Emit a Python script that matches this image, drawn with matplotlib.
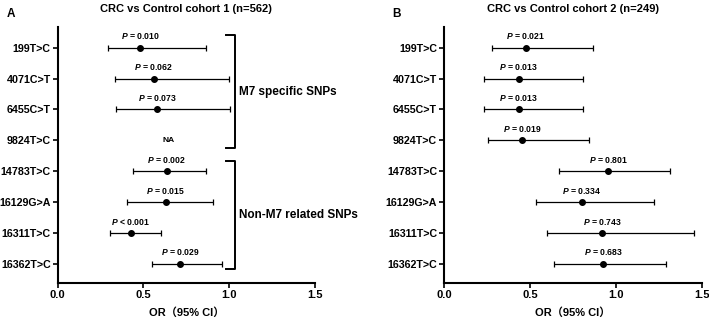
import matplotlib

matplotlib.use("Agg")
import matplotlib.pyplot as plt

snps = ["199T>C", "4071C>T", "6455C>T", "9824T>C",
        "14783T>C", "16129G>A", "16311T>C", "16362T>C"]

# cohort 1 (NA for 9824T>C)
or1 = [0.48, 0.56, 0.58, None, 0.635, 0.63, 0.425, 0.715]
lo1 = [0.295, 0.335, 0.34, None, 0.44, 0.405, 0.305, 0.547]
hi1 = [0.862, 1.0, 1.005, None, 0.864, 0.906, 0.603, 0.955]
p1 = ["= 0.010", "= 0.062", "= 0.073", None, "= 0.002", "= 0.015", "< 0.001", "= 0.029"]

# cohort 2
or2 = [0.476, 0.435, 0.435, 0.454, 0.955, 0.802, 0.922, 0.926]
lo2 = [0.278, 0.231, 0.231, 0.254, 0.668, 0.536, 0.602, 0.639]
hi2 = [0.869, 0.807, 0.807, 0.844, 1.316, 1.225, 1.455, 1.291]
p2 = ["= 0.021", "= 0.013", "= 0.013", "= 0.019", "= 0.801", "= 0.334", "= 0.743", "= 0.683"]

groups = ["M7 specific SNPs", "Non-M7 related SNPs"]
group_rows = [(0, 3), (4, 7)]

titles = ["CRC vs Control cohort 1 (n=562)", "CRC vs Control cohort 2 (n=249)"]
panel_tags = ["A", "B"]
xticks = [0.0, 0.5, 1.0, 1.5]

plt.rcParams["font.family"] = ["Liberation Sans", "Noto Sans CJK SC"]
plt.rcParams["font.weight"] = "bold"
plt.rcParams["mathtext.fontset"] = "custom"
plt.rcParams["mathtext.it"] = "Liberation Sans:italic:bold"
plt.rcParams["mathtext.rm"] = "Liberation Sans:bold"


def draw_panel(ax, ors, los, his, pvals, title):
    ys = list(range(1, len(snps) + 1))
    for y, o, lo, hi, p in zip(ys, ors, los, his, pvals):
        if o is None:
            ax.text(0.648, y, "NA", ha="center", va="center", fontsize=6)
            continue
        ax.errorbar(o, y, xerr=[[o - lo], [hi - o]], fmt="o", color="black",
                    ms=4, elinewidth=0.9, capsize=2.5, capthick=0.9)
        ax.text(o, y - 0.2, f"$P$ {p}", ha="center", va="bottom", fontsize=6.2)

    ax.set_xlim(0, 1.5)
    ax.set_ylim(8.63, 0.33)
    ax.set_xticks(xticks)
    ax.set_xticklabels([f"{t:.1f}" for t in xticks], fontsize=8)
    ax.set_yticks(ys)
    ax.set_yticklabels(snps, fontsize=7.7)
    ax.tick_params(length=3.5, width=1.2, pad=1.5)
    for side in ("top", "right"):
        ax.spines[side].set_visible(False)
    for side in ("left", "bottom"):
        ax.spines[side].set_linewidth(1.5)
    ax.set_title(title, fontsize=8, fontweight="bold", pad=11)
    ax.set_xlabel("OR（95% CI）", fontsize=8, fontweight="bold", labelpad=5)


fig = plt.figure(figsize=(7.09, 3.21), dpi=100)
ax1 = fig.add_axes([0.0814, 0.1184, 0.3629, 0.7975])
ax2 = fig.add_axes([0.6262, 0.1184, 0.3634, 0.7975])

draw_panel(ax1, or1, lo1, hi1, p1, titles[0])
draw_panel(ax2, or2, lo2, hi2, p2, titles[1])

# brackets on the first panel
for label, (r0, r1), (top_off, bot_off) in zip(groups, group_rows, [(0.41, 0.26), (0.33, 0.18)]):
    y_top = r0 + 1 - top_off
    y_bot = r1 + 1 + bot_off
    ax1.plot([0.98, 1.033, 1.033, 0.98], [y_top, y_top, y_bot, y_bot],
             color="black", lw=1.4, clip_on=False)
    ax1.text(1.055, (y_top + y_bot) / 2, label, ha="left", va="center", fontsize=8.5)

fig.text(0.0099, 0.957, panel_tags[0], fontsize=8.5, va="center")
fig.text(0.553, 0.957, panel_tags[1], fontsize=8.5, va="center")

fig.savefig("out.png", dpi=100)
